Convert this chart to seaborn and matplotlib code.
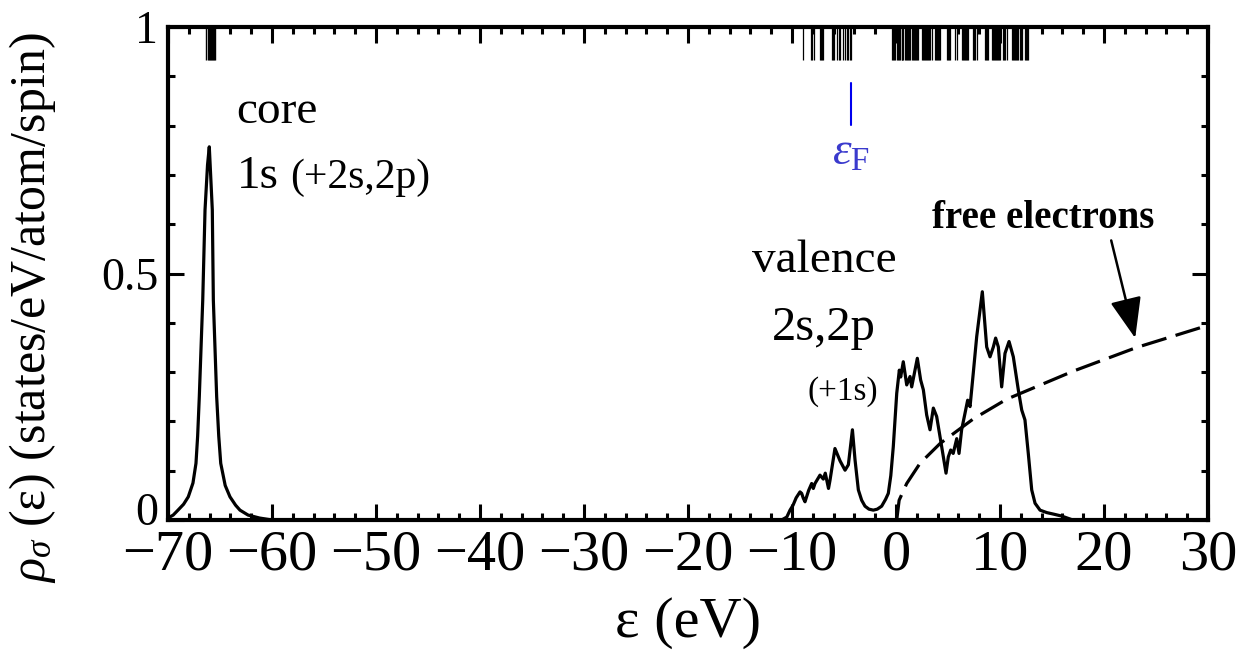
import numpy as np
import pandas as pd
import matplotlib
matplotlib.use("Agg")
import matplotlib.pyplot as plt
import matplotlib.transforms as mtransforms
import seaborn as sns

# ---- density of states (states/eV/atom/spin) ----
core_eps = [-70.0, -69.5, -69.04, -68.5, -68.05, -67.6, -67.31, -67.15, -66.99, -66.66,
            -66.44, -66.2, -66.03, -65.9, -65.74, -65.64, -65.32, -65.12, -64.93, -64.5,
            -64.04, -63.5, -63.08, -62.3, -61.2, -60.0]
core_dos = [0.004, 0.010, 0.020, 0.032, 0.047, 0.075, 0.115, 0.17, 0.25, 0.446,
            0.629, 0.72, 0.757, 0.70, 0.629, 0.446, 0.25, 0.17, 0.115, 0.07,
            0.047, 0.03, 0.02, 0.01, 0.004, 0.0]

gap_eps = [-60.0, -11.0]
gap_dos = [0.0, 0.0]

valence_eps = [-11.0, -10.5, -10.19, -9.9, -9.6, -9.23, -9.07, -8.91, -8.75, -8.4,
               -8.11, -7.95, -7.79, -7.31, -6.99, -6.8, -6.49, -6.35, -5.87, -5.38,
               -4.9, -4.58, -4.19, -3.94, -3.62, -3.3, -2.98, -2.6, -2.18, -1.8,
               -1.38, -1.0, -0.74, -0.5, -0.26, 0.07, 0.32, 0.45, 0.70, 1.03,
               1.35, 1.51, 2.05, 2.37, 2.63, 2.95, 3.27, 3.59, 3.91, 4.39,
               4.81, 5.03, 5.26, 5.5, 5.84, 6.06, 6.31, 6.63, 6.89, 7.12,
               7.43, 7.76, 8.30, 8.72, 9.04, 9.36, 9.58, 9.84, 10.16, 10.48,
               10.87, 11.28, 11.76, 12.09, 12.4, 12.72, 13.05, 13.37, 13.85, 14.5,
               15.13, 15.93, 17.0, 30.0]
valence_dos = [0.0, 0.006, 0.02, 0.03, 0.045, 0.057, 0.054, 0.044, 0.037, 0.06,
               0.074, 0.064, 0.074, 0.091, 0.083, 0.095, 0.064, 0.08, 0.145, 0.12,
               0.101, 0.112, 0.183, 0.122, 0.061, 0.04, 0.028, 0.022, 0.020, 0.022,
               0.028, 0.042, 0.054, 0.09, 0.149, 0.257, 0.304, 0.29, 0.321, 0.274,
               0.291, 0.27, 0.328, 0.284, 0.264, 0.213, 0.183, 0.227, 0.21, 0.149,
               0.095, 0.128, 0.142, 0.135, 0.165, 0.135, 0.183, 0.216, 0.243, 0.23,
               0.298, 0.372, 0.463, 0.351, 0.331, 0.351, 0.369, 0.351, 0.27, 0.338,
               0.362, 0.331, 0.264, 0.223, 0.203, 0.135, 0.061, 0.034, 0.02, 0.015,
               0.012, 0.008, 0.0, 0.0]

# free-electron reference curve
free_eps = [0.07, 0.3, 1.03, 2.31, 4.23, 7.43, 10.64, 17.05, 23.14, 29.87, 30.0]
free_dos = [0.0, 0.04, 0.074, 0.115, 0.155, 0.205, 0.245, 0.302, 0.350, 0.394, 0.395]

# Kohn-Sham eigenvalues (eV), drawn as sticks along the top
core_levels = [-66.3, -66.2, -66.1, -66.0, -65.9, -65.8, -65.7, -65.6, -65.5]
occupied_levels = [-8.97, -8.2, -8.05, -7.9, -7.35, -7.25, -7.15, -7.0, -6.2, -6.1,
                   -5.95, -5.65, -5.45, -5.38, -5.05, -4.95, -4.75, -4.6, -4.45, -4.35]
empty_levels = [-0.35, -0.25, -0.15, -0.05, 0.05, 0.15, 0.25, 0.38, 0.54, 0.62, 0.70,
                0.87, 0.97, 1.07, 1.17, 1.27, 1.35, 1.51, 1.6, 1.7, 1.8, 1.9, 2.0,
                2.15, 2.47, 2.57, 2.67, 2.77, 2.87, 2.95, 3.11, 3.21, 3.31, 3.43,
                3.75, 3.85, 3.95, 4.05, 4.15, 4.23, 4.87, 4.97, 5.07, 5.19, 5.67,
                5.84, 6.31, 6.41, 6.51, 6.61, 6.71, 6.81, 6.95, 7.43, 7.53, 7.63,
                7.76, 8.56, 8.66, 8.76, 8.88, 9.2, 9.3, 9.4, 9.5, 9.6, 9.7, 9.8,
                9.9, 10.0, 10.32, 10.42, 10.52, 10.64, 11.12, 11.22, 11.32, 11.42,
                11.52, 11.62, 11.76, 11.92, 12.02, 12.14, 12.4, 12.5, 12.6, 12.72]
E_FERMI = -4.35

x_ticks = [-70, -60, -50, -40, -30, -20, -10, 0, 10, 20, 30]
y_ticks = [0, 0.5, 1]
y_tick_labels = ["0", "0.5", "1"]

sns.set_theme(style="ticks")
plt.rcParams["font.family"] = ["Liberation Serif", "DejaVu Serif"]
plt.rcParams["mathtext.fontset"] = "custom"
plt.rcParams["mathtext.rm"] = "Liberation Serif"
plt.rcParams["mathtext.it"] = "Liberation Serif:italic"
plt.rcParams["mathtext.bf"] = "Liberation Serif:bold"
plt.rcParams["text.color"] = "black"
plt.rcParams["axes.labelcolor"] = "black"
plt.rcParams["xtick.color"] = "black"
plt.rcParams["ytick.color"] = "black"

fig = plt.figure(figsize=(12.36, 6.58), dpi=100)
ax = fig.add_axes([168 / 1236, 1 - 520 / 658, 1040 / 1236, 493 / 658])

dos_df = pd.DataFrame({
    "eps": core_eps + gap_eps + valence_eps,
    "dos": core_dos + gap_dos + valence_dos,
})
free_df = pd.DataFrame({"eps": free_eps, "dos": free_dos})

sns.lineplot(data=dos_df, x="eps", y="dos", sort=False, estimator=None,
             color="black", lw=2.3, ax=ax)
sns.lineplot(data=free_df, x="eps", y="dos", sort=False, estimator=None,
             color="black", lw=2.3, ax=ax)
ax.lines[-1].set_dashes((8, 3))

# eigenvalue sticks
ax.vlines(core_levels, 0.933, 1.0, color="black", lw=1.0)
ax.vlines(occupied_levels, 0.933, 1.0, color="black", lw=0.9)
ax.vlines(empty_levels, 0.933, 1.0, color="black", lw=0.9)

# Fermi level marker
ax.plot([E_FERMI, E_FERMI], [0.801, 0.886], color="#0000ee", lw=1.5)
ax.text(E_FERMI, 0.72, r"$\varepsilon_{\mathrm{F}}$", color="#3a3acd",
        fontsize=34, ha="center", va="baseline")

# annotations
ax.text(-63.4, 0.805, "core", fontsize=34, va="baseline")
ax.text(-63.4, 0.673, "1s", fontsize=34, va="baseline")
ax.text(-58.3, 0.673, "(+2s,2p)", fontsize=30, va="baseline")
ax.text(-13.85, 0.503, "valence", fontsize=34, va="baseline")
ax.text(-11.9, 0.365, "2s,2p", fontsize=35, va="baseline")
ax.text(-8.5, 0.243, "(+1s)", fontsize=24, va="baseline")
ax.annotate("free electrons", xy=(23.0, 0.369), xytext=(14.2, 0.592),
            fontsize=28, fontweight="bold", ha="center", va="baseline",
            arrowprops=dict(arrowstyle="-|>,head_length=0.9,head_width=0.35",
                            color="black", lw=1.8, shrinkA=0, shrinkB=0,
                            relpos=(0.8, 0.0)))

ax.set_xlim(-70, 30)
ax.set_ylim(0, 1)
ax.set_xticks(x_ticks)
ax.set_xticks(np.arange(-70, 31, 2), minor=True)
ax.set_yticks(y_ticks)
ax.set_yticklabels(y_tick_labels)
ax.set_yticks(np.arange(0, 1.01, 0.1), minor=True)
ax.tick_params(which="both", direction="in", top=True, right=True,
               width=2.2, color="black")
ax.tick_params(axis="x", which="major", labelsize=42, pad=7)
ax.tick_params(axis="y", which="major", labelsize=33, pad=7)
ax.tick_params(which="major", length=11.5)
ax.tick_params(which="minor", length=5)
for s in ax.spines.values():
    s.set_linewidth(3.0)
    s.set_color("black")

# lift the "0" on the y axis so it clears the "−70" below it
zero_lbl = ax.get_yticklabels()[0]
zero_lbl.set_transform(zero_lbl.get_transform() +
                       mtransforms.ScaledTranslation(0, 11 / 100, fig.dpi_scale_trans))

ax.set_xlabel("ε (eV)", fontsize=42, labelpad=11)
ax.set_ylabel(r"$\rho_\sigma$ (ε) (states/eV/atom/spin)", fontsize=36)
ax.yaxis.set_label_coords(-0.106, 0.43)

fig.savefig("out.png", dpi=100)
